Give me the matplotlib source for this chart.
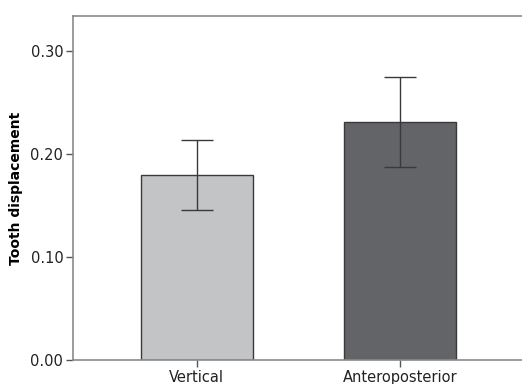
import matplotlib.pyplot as plt

categories = ["Vertical", "Anteroposterior"]
means = [0.180, 0.231]
err_low = [0.146, 0.187]
err_high = [0.214, 0.275]
yticks = [0.00, 0.10, 0.20, 0.30]

fig = plt.figure(figsize=(5.22, 3.84), dpi=100)
ax = fig.add_axes([73 / 522, 24 / 384, (540 - 73) / 522, 344 / 384])

x = list(range(len(categories)))
lower = [m - lo for m, lo in zip(means, err_low)]
upper = [hi - m for m, hi in zip(means, err_high)]

ax.bar(x, means, width=0.55, color=["#c3c4c6", "#636468"],
       edgecolor="#3a3a3a", linewidth=1.0, zorder=2)
ax.errorbar(x, means, yerr=[lower, upper], fmt="none", ecolor="#3a3a3a",
            elinewidth=1.0, capsize=11.5, capthick=1.0, zorder=3)

ax.set_xlim(-0.61, (540 - 197) / 203)
ax.set_ylim(0, 0.334)
ax.set_yticks(yticks)
ax.set_yticklabels([f"{v:.2f}" for v in yticks], fontsize=10.5, color="#222222")
ax.set_xticks(x)
ax.set_xticklabels(categories, fontsize=10.5, color="#222222")
ax.set_ylabel("Tooth displacement", fontsize=10, fontweight="bold", labelpad=5)

for side in ["left", "bottom", "top"]:
    ax.spines[side].set_color("#8a8a8a")
    ax.spines[side].set_linewidth(1.2)
ax.spines["right"].set_visible(False)
ax.tick_params(axis="both", colors="#555555", length=5, width=1.0)
ax.tick_params(axis="x", pad=2, labelcolor="#222222")
ax.tick_params(axis="y", pad=2, labelcolor="#222222")

fig.savefig("out.png", dpi=100)
